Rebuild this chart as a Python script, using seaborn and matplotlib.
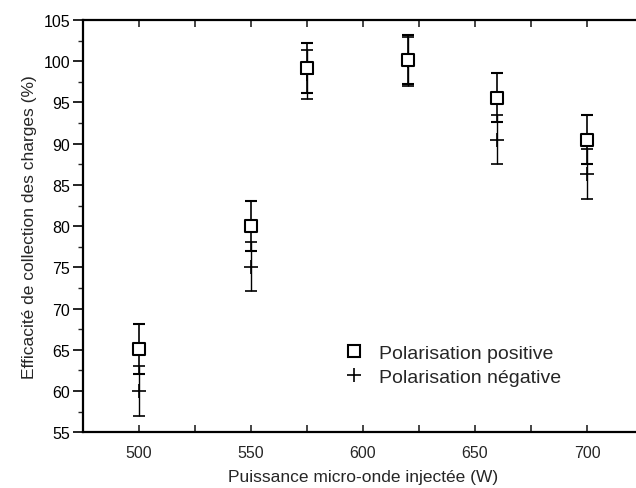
import matplotlib
matplotlib.use("Agg")
import matplotlib.pyplot as plt
import seaborn as sns
import pandas as pd
from matplotlib.ticker import MultipleLocator
from matplotlib.lines import Line2D

# data
power   = [500, 550, 575, 620, 660, 700]
eff_pos = [65.1, 80.0, 99.2, 100.2, 95.6, 90.5]
eff_neg = [60.0, 75.1, 98.4, 100.0, 90.5, 86.3]
err_pos = [3.0, 3.0, 3.0, 3.0, 3.0, 3.0]
err_neg = [3.0, 3.0, 3.0, 3.0, 3.0, 3.0]

df = pd.DataFrame({"power": power, "pos": eff_pos, "neg": eff_neg,
                   "epos": err_pos, "eneg": err_neg})

sns.set_theme(style="ticks")
plt.rcParams["font.family"] = ["Liberation Sans", "DejaVu Sans"]

fig = plt.figure(figsize=(6.36, 4.89), dpi=100)
ax = fig.add_axes([0.130, 0.114, 0.881, 0.843])

# error bars
ax.errorbar(df["power"], df["neg"], yerr=df["eneg"], fmt="none",
            ecolor="black", elinewidth=1.0, capsize=4, capthick=1.2, zorder=2)
ax.errorbar(df["power"], df["pos"], yerr=df["epos"], fmt="none",
            ecolor="black", elinewidth=1.2, capsize=4, capthick=1.5, zorder=2)

sns.scatterplot(data=df, x="power", y="neg", marker="+", s=110,
                color="black", linewidth=1.2, ax=ax, zorder=3)
sns.scatterplot(data=df, x="power", y="pos", marker="s", s=70,
                facecolor="white", edgecolor="black", linewidth=1.5,
                ax=ax, zorder=4)

ax.set_xlim(475, 725)
ax.set_ylim(55, 105)
ax.xaxis.set_major_locator(MultipleLocator(50))
ax.xaxis.set_minor_locator(MultipleLocator(25))
ax.yaxis.set_major_locator(MultipleLocator(5))
ax.yaxis.set_minor_locator(MultipleLocator(2.5))

for s in ax.spines.values():
    s.set_linewidth(1.6)
    s.set_color("black")

ax.tick_params(axis="y", which="major", direction="out", length=7, width=1.2,
               labelsize=11.5, colors="black", right=True, pad=2)
ax.tick_params(axis="y", which="minor", direction="out", length=3.5, width=1.0,
               right=True)
ax.tick_params(axis="x", which="both", direction="in", length=5, width=1.2,
               labelsize=11.5, top=True, pad=9)

ax.set_xlabel("Puissance micro-onde injectée (W)", fontsize=12.5, labelpad=7)
ax.set_ylabel("Efficacité de collection des charges (%)", fontsize=12.5,
              labelpad=5)

handles = [
    Line2D([], [], marker="s", linestyle="none", markersize=8,
           markerfacecolor="white", markeredgecolor="black", markeredgewidth=1.5),
    Line2D([], [], marker="+", linestyle="none", markersize=10,
           color="black", markeredgewidth=1.2),
]
ax.legend(handles, ["Polarisation positive", "Polarisation négative"],
          loc="center left", bbox_to_anchor=(0.436, 0.163), frameon=False,
          fontsize=14, handletextpad=0.78, labelspacing=0.3, handlelength=1.0)

fig.savefig("out.png", dpi=100)
